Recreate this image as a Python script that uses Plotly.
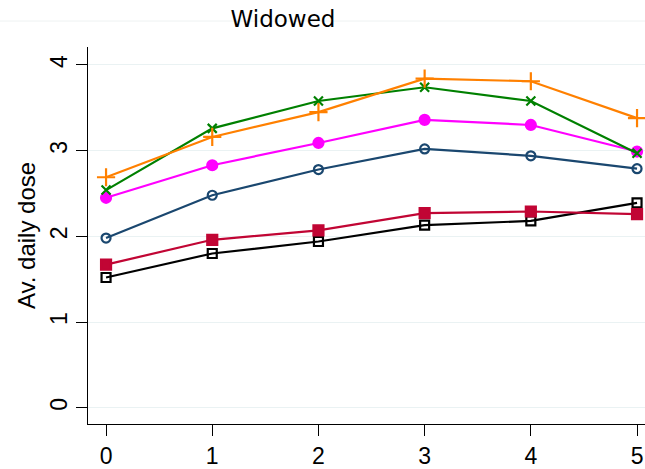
import plotly.graph_objects as go

x_vals = [0, 1, 2, 3, 4, 5]
s_black = [1.52, 1.80, 1.94, 2.13, 2.18, 2.39]
s_red = [1.67, 1.96, 2.07, 2.27, 2.29, 2.26]
s_blue = [1.98, 2.48, 2.78, 3.02, 2.94, 2.79]
s_magenta = [2.45, 2.83, 3.09, 3.36, 3.30, 2.99]
s_green = [2.54, 3.26, 3.58, 3.74, 3.58, 2.97]
s_orange = [2.69, 3.16, 3.45, 3.84, 3.81, 3.38]

series = [
    (s_black, "#000000", "square-open", 9),
    (s_red, "#c10534", "square", 10),
    (s_blue, "#1a476f", "circle-open", 9),
    (s_magenta, "#ff00ff", "circle", 10),
    (s_green, "#008000", "x-thin-open", 9),
    (s_orange, "#ff8000", "cross-thin-open", 13),
]

fig = go.Figure()
for ys, col, sym, sz in series:
    fig.add_trace(go.Scatter(
        x=x_vals, y=ys, mode="lines+markers",
        line=dict(color=col, width=2.2),
        marker=dict(symbol=sym, size=sz, color=col, line=dict(color=col, width=2.2)),
        showlegend=False, cliponaxis=False,
    ))

fig.update_layout(
    width=645, height=469,
    margin=dict(l=88, r=0, t=47, b=45, autoexpand=False),
    paper_bgcolor="white", plot_bgcolor="white",
    title=dict(text="Widowed", x=283/645, xref="container", xanchor="center",
               y=1-19/469, yref="container", yanchor="middle",
               font=dict(family="DejaVu Sans", size=23, color="black")),
    font=dict(family="Liberation Sans, Arial", color="black"),
    shapes=[dict(type="line", xref="paper", yref="paper", x0=-0.2, x1=1.0,
                 y0=(424-21)/377, y1=(424-21)/377,
                 line=dict(color="#eef2f2", width=1), layer="below")],
)
fig.update_xaxes(
    range=[-0.17, 5.075], tickvals=x_vals, ticktext=[str(v) for v in x_vals],
    showgrid=False, zeroline=False, showline=True, linecolor="black", linewidth=1.3,
    ticks="outside", ticklen=11, tickcolor="black", tickwidth=1.3,
    tickfont=dict(size=23, family="Liberation Sans, Arial"),
    automargin=False,
)
fig.update_yaxes(
    range=[-0.19, 4.21], tickvals=[0, 1, 2, 3, 4],
    showgrid=True, gridcolor="#eaf2f3", gridwidth=1, zeroline=False,
    showline=True, linecolor="black", linewidth=1.3,
    ticks="outside", ticklen=11, tickcolor="black", tickwidth=1.3,
    tickangle=-90,
    tickfont=dict(size=23, family="Liberation Sans, Arial"),
    title=dict(text="Av. daily dose", font=dict(size=24, family="Liberation Sans, Arial"), standoff=3),
    automargin=False,
)
fig.write_html("out.html", config={"displayModeBar": False},
               post_script="document.body.style.margin='0px';")
